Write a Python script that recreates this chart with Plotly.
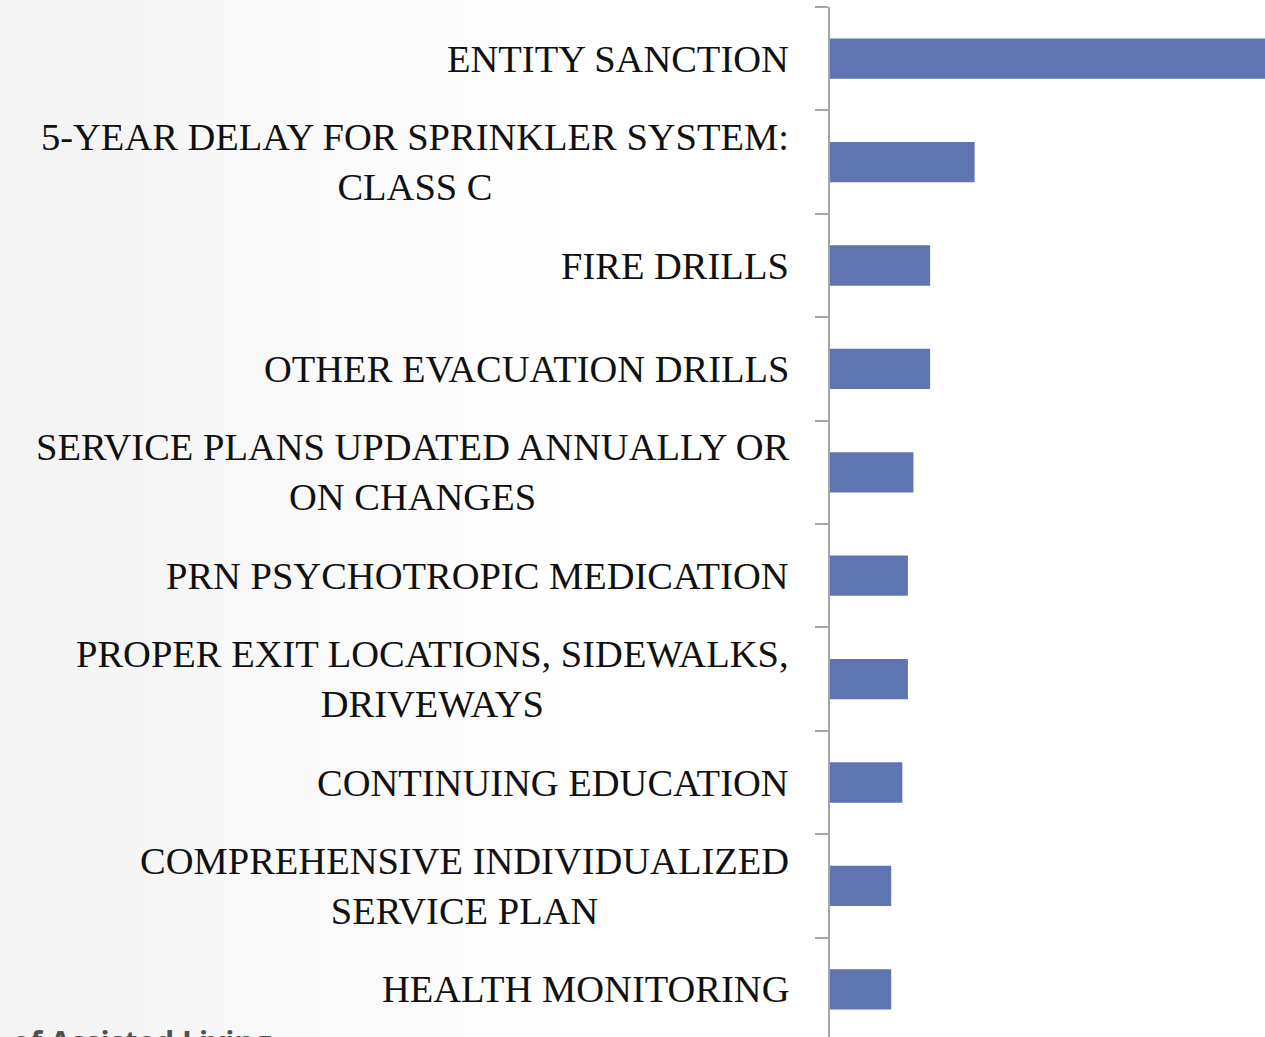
import plotly.graph_objects as go

categories = [
    "ENTITY SANCTION",
    "5-YEAR DELAY FOR SPRINKLER SYSTEM:<br>CLASS C",
    "FIRE DRILLS",
    "OTHER EVACUATION DRILLS",
    "SERVICE PLANS UPDATED ANNUALLY OR<br>ON CHANGES",
    "PRN PSYCHOTROPIC MEDICATION",
    "PROPER EXIT LOCATIONS, SIDEWALKS,<br>DRIVEWAYS",
    "CONTINUING EDUCATION",
    "COMPREHENSIVE INDIVIDUALIZED<br>SERVICE PLAN",
    "HEALTH MONITORING",
]
values = [82, 26, 18, 18, 15, 14, 14, 13, 11, 11]
footer_text = "of Assisted Living"

W, H = 1265, 1037
L, T = 830, 7
positions = list(range(len(categories)))

fig = go.Figure()
fig.add_trace(go.Bar(
    x=values, y=positions, orientation="h",
    marker=dict(color="#5F75B2", line=dict(width=0)),
    width=0.39, hoverinfo="skip",
))

pw = W - L
ph = H - T


def px_x(p):
    return (p - L) / pw


def px_y(p):
    return (H - p) / ph


# subtle background gradient (light grey on the left fading to white)
shapes = []
nstrips = 30
span = 600
for i in range(nstrips):
    x0p = i * span / nstrips
    x1p = (i + 1) * span / nstrips + 1
    frac = i / (nstrips - 1)
    g = int(round(0xF3 + (0xFF - 0xF3) * frac))
    shapes.append(dict(
        type="rect", xref="paper", yref="paper",
        x0=px_x(x0p), x1=px_x(x1p), y0=px_y(H + 2), y1=px_y(-2),
        fillcolor=f"rgb({g},{g},{g})", line=dict(width=0), layer="below",
    ))

annotations = []
for i, c in enumerate(categories):
    annotations.append(dict(
        x=0, xref="paper", y=i, yref="y", xshift=-39,
        xanchor="right", yanchor="middle", align="center",
        text=c, showarrow=False,
        font=dict(family="Liberation Serif, DejaVu Serif, serif", size=38.5, color="#111111"),
    ))
annotations.append(dict(
    x=px_x(10), xref="paper", y=px_y(1019), yref="paper",
    xanchor="left", yanchor="top", text=footer_text, showarrow=False,
    font=dict(family="Open Sans, sans-serif", size=30, color="#505050", weight="bold"),
))

fig.update_layout(
    width=W, height=H,
    margin=dict(l=L, r=0, t=T, b=0, pad=0),
    paper_bgcolor="white", plot_bgcolor="rgba(0,0,0,0)",
    showlegend=False,
    shapes=shapes,
    annotations=annotations,
    xaxis=dict(range=[0, 78.2], visible=False, showgrid=False, zeroline=False),
    yaxis=dict(
        range=[(H - T) / 103.4 - 0.5, -0.5],
        tickvals=[p - 0.5 for p in positions] + [len(positions) - 0.5],
        showticklabels=False, ticks="outside", ticklen=13, tickwidth=1.5,
        tickcolor="#A6A6A6", showline=True, linecolor="#A6A6A6", linewidth=2,
        showgrid=False, zeroline=False,
    ),
)

fig.write_html(
    "out.html",
    config={"displayModeBar": False},
    post_script="document.body.style.margin='0';document.body.style.padding='0';",
)
